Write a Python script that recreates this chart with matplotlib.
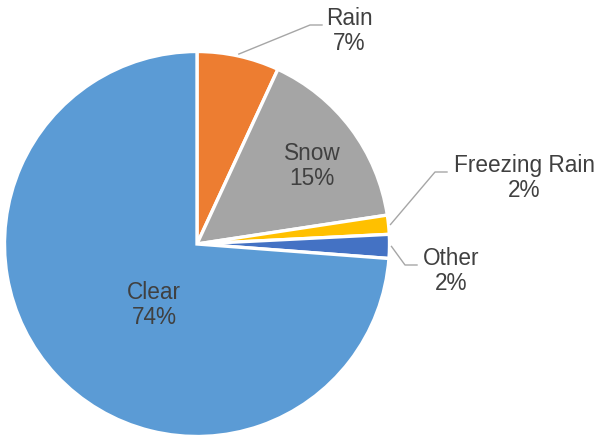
import numpy as np
import matplotlib.pyplot as plt

# weather conditions, clockwise from 12 o'clock
conditions = ['Rain', 'Snow', 'Freezing Rain', 'Other', 'Clear']
shares = [6.9, 15.7, 1.6, 2.0, 73.8]
pct_labels = ['7%', '15%', '2%', '2%', '74%']
colors = ['#ED7D31', '#A5A5A5', '#FFC000', '#4472C4', '#5B9BD5']

W, H = 597, 438
fig = plt.figure(figsize=(W / 100, H / 100), dpi=100)
ax = fig.add_axes([0, 0, 1, 1])

cx, cy, r = 197, H - 244, 192.5
wedges, _ = ax.pie(shares, colors=colors, startangle=90, counterclock=False,
                   center=(cx, cy), radius=r, frame=True,
                   wedgeprops=dict(edgecolor='white', linewidth=2.4))
ax.set_xlim(0, W)
ax.set_ylim(0, H)
ax.axis('off')

txt = dict(fontsize=16.3, color='#404040', ha='center', va='center',
           family='Liberation Sans', linespacing=1.15)

# label block centres (pixel coords, y from top) and leader-line elbows
label_pos = {'Rain': (349, 31), 'Snow': (312, 166), 'Freezing Rain': (524, 178),
             'Other': (451, 271), 'Clear': (154, 305)}
elbows = {'Rain': [(310, 25), (322, 25)],
          'Freezing Rain': [(435, 172), (447, 172)],
          'Other': [(405, 265), (417, 265)]}

for w, name, pct in zip(wedges, conditions, pct_labels):
    lx, ly = label_pos[name]
    ax.text(lx, H - ly, f'{name}\n{pct}', **txt)
    if name in elbows:
        ang = np.deg2rad((w.theta1 + w.theta2) / 2)
        sx, sy = cx + (r + 2) * np.cos(ang), cy + (r + 2) * np.sin(ang)
        xs = [sx] + [p[0] for p in elbows[name]]
        ys = [sy] + [H - p[1] for p in elbows[name]]
        ax.plot(xs, ys, color='#A6A6A6', lw=1.0)

fig.savefig('out.png', dpi=100)
